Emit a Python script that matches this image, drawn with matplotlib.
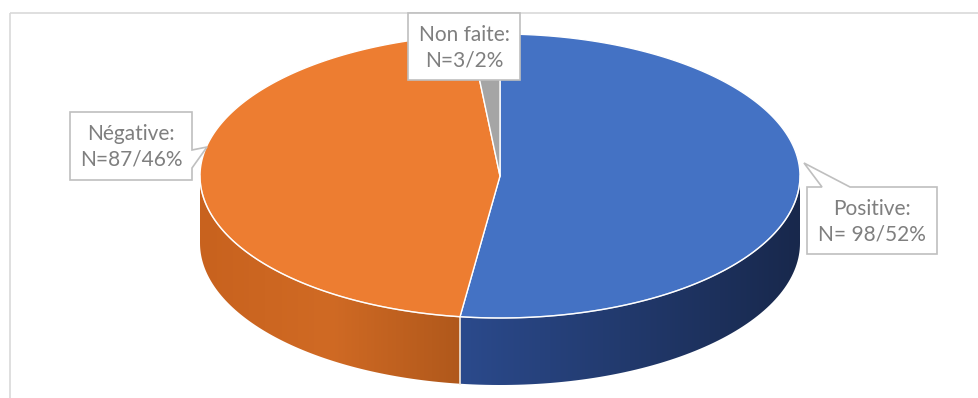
import numpy as np
import matplotlib.pyplot as plt
from matplotlib.patches import Polygon, Rectangle
from matplotlib.colors import LinearSegmentedColormap

# results of the test
categories = ['Positive', 'Négative', 'Non faite']
counts = [98, 87, 3]
percents = [52, 46, 2]
label_texts = ['Positive:\nN= 98/52%', 'Négative:\nN=87/46%', 'Non faite:\nN=3/2%']

top_colors = ['#4472C4', '#ED7D31', '#A5A5A5']
side_colors = [('#2B4A8C', '#18284C'), ('#D26C25', '#A4521A'), ('#8A8A8A', '#6E6E6E')]

W, H = 979, 398
fig = plt.figure(figsize=(W / 100, H / 100), dpi=100)
ax = fig.add_axes([0, 0, 1, 1])
ax.set_xlim(0, W)
ax.set_ylim(H, 0)
ax.axis('off')

# chart frame
ax.add_patch(Rectangle((10, 13), 1000, 500, fill=False, ec='#D9D9D9', lw=1.2, zorder=0))

# ellipse geometry (pixels)
cx, cy, a, b, depth = 500, 176, 300, 142, 67


def rim(t, dy=0):
    t = np.radians(t)
    return np.column_stack([cx + a * np.sin(t), cy - b * np.cos(t) + dy])


total = sum(counts)
edges = np.concatenate([[0], np.cumsum(counts) / total * 360])

# side walls, only the front half is visible (90..270 deg clockwise from top)
for i in range(len(counts)):
    t0, t1 = max(edges[i], 90), min(edges[i + 1], 270)
    if t1 <= t0:
        continue
    ts = np.linspace(t0, t1, 80)
    pts = np.vstack([rim(ts), rim(ts[::-1], depth)])
    poly = Polygon(pts, closed=True, fc='none', ec='none')
    ax.add_patch(poly)
    x0, x1 = pts[:, 0].min(), pts[:, 0].max()
    cmap = LinearSegmentedColormap.from_list('side%d' % i, side_colors[i])
    if i == 1:
        cmap = LinearSegmentedColormap.from_list('side%d' % i, ['#C8621E', '#D06A24', '#B0581B'])
    grad = np.linspace(0, 1, 256).reshape(1, -1)
    im = ax.imshow(grad, cmap=cmap, extent=[x0, x1, cy + b + depth + 5, cy - 5],
                   aspect='auto', zorder=1)
    im.set_clip_path(poly)

# seam between the two walls
seam = rim([edges[1]])[0]
ax.plot([seam[0], seam[0]], [seam[1], seam[1] + depth], color='#F2E6DA', lw=1.2, zorder=2)

# top face slices
for i in range(len(counts)):
    ts = np.linspace(edges[i], edges[i + 1], 200)
    pts = np.vstack([[cx, cy], rim(ts)])
    ax.add_patch(Polygon(pts, closed=True, fc=top_colors[i], ec='white', lw=1.0,
                         joinstyle='round', zorder=3))

# light rim along the front edge
ts = np.linspace(90, 270, 200)
r = rim(ts)
ax.plot(r[:, 0], r[:, 1], color='white', lw=1.0, alpha=0.6, zorder=4)


def callout(box, tip=None, base=None):
    x0, y0, x1, y1 = box
    if tip is None:
        pts = [(x0, y0), (x1, y0), (x1, y1), (x0, y1)]
    elif base[0] == 'right':
        pts = [(x0, y0), (x1, y0), (x1, base[1]), tip, (x1, base[2]), (x1, y1), (x0, y1)]
    else:
        pts = [(x0, y0), (base[1], y0), tip, (base[2], y0), (x1, y0), (x1, y1), (x0, y1)]
    ax.add_patch(Polygon(pts, closed=True, fc='white', ec='#BFBFBF', lw=1.2, zorder=5))


boxes = [(807, 187, 937, 254), (70, 112, 192, 180), (408, 13, 520, 80)]
tips = [((804, 163), ('top', 822, 850)), ((207, 147), ('right', 150, 168)), (None, None)]

for txt, box, (tip, base) in zip(label_texts, boxes, tips):
    callout(box, tip, base)
    ax.text((box[0] + box[2]) / 2, (box[1] + box[3]) / 2 + 1, txt, ha='center', va='center',
            fontsize=15, family='Lato', color='#7F7F7F', linespacing=1.35, zorder=6)

fig.savefig('out.png', dpi=100)
